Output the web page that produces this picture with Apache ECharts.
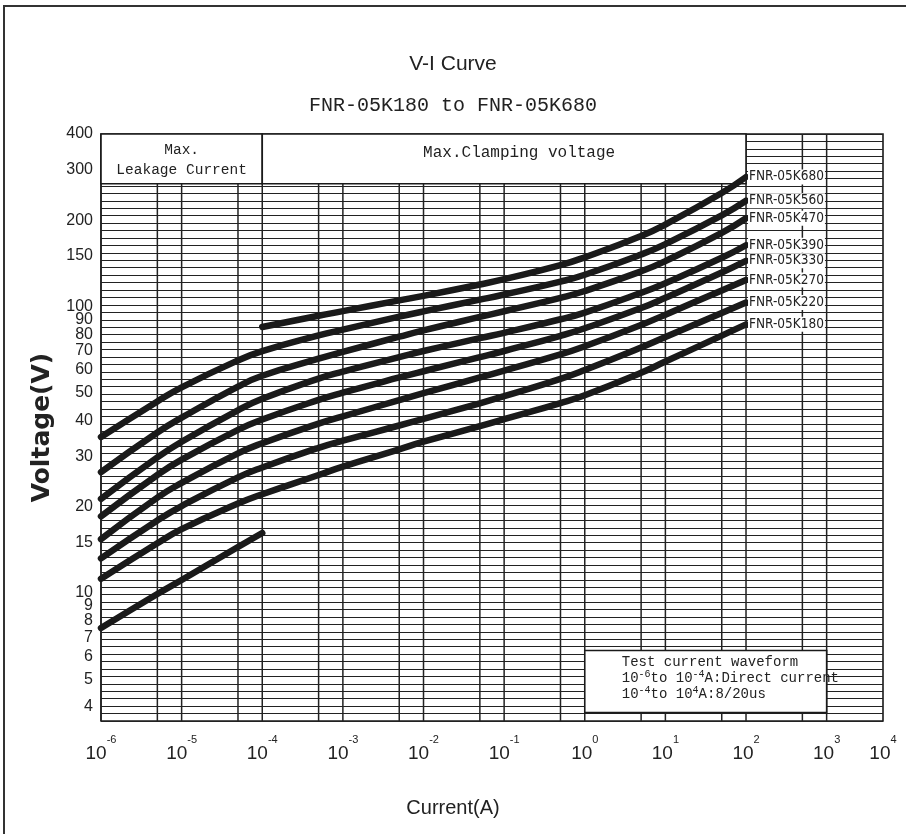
<!DOCTYPE html>
<html><head><meta charset="utf-8">
<script src="https://cdn.jsdelivr.net/npm/echarts@6.0.0/dist/echarts.min.js"></script>
<style>html,body{margin:0;padding:0;background:#fff}#c{width:906px;height:834px}</style>
</head><body><div id="c"></div>
<script>
// Current (A) sample points along every curve
const currentA = [1e-6, 5e-6, 1e-5, 5e-5, 1e-4, 5e-4, 1e-3, 5e-3, 1e-2, 5e-2, 1e-1, 5e-1, 1, 5, 10, 50, 100];
const seriesNames = ['FNR-05K680', 'FNR-05K560', 'FNR-05K470', 'FNR-05K390', 'FNR-05K330', 'FNR-05K270', 'FNR-05K220', 'FNR-05K180'];
// Voltage (V)
const k680 = [null, null, null, null, 84.8, 92.8, 96.3, 105.0, 108.9, 119.3, 124.5, 139.4, 148.4, 176.3, 193.2, 248.9, 283.1];
const k560 = [35.0, 46.6, 52.2, 64.8, 69.8, 79.2, 83.0, 92.1, 96.1, 105.6, 110.1, 122.1, 129.0, 151.8, 165.1, 207.9, 233.8];
const k470 = [26.4, 36.3, 40.9, 52.5, 57.3, 65.7, 69.4, 78.4, 82.5, 91.9, 96.2, 107.2, 113.2, 132.6, 144.0, 180.6, 203.1];
const k390 = [21.3, 29.7, 33.7, 43.4, 47.6, 56.0, 59.2, 66.5, 69.9, 77.5, 80.9, 90.2, 95.2, 111.6, 120.6, 147.9, 163.6];
const k330 = [18.5, 25.8, 29.2, 37.1, 40.3, 47.2, 50.0, 56.5, 59.4, 66.5, 69.9, 79.0, 83.9, 98.7, 107.2, 131.4, 144.3];
const k270 = [15.4, 21.5, 24.2, 30.7, 33.3, 39.0, 41.3, 47.1, 49.8, 56.5, 59.7, 68.0, 72.6, 86.2, 93.6, 113.7, 123.6];
const k220 = [13.2, 17.9, 20.1, 25.3, 27.4, 32.1, 34.0, 38.4, 40.5, 45.9, 48.6, 55.9, 60.0, 71.9, 78.2, 94.9, 103.2];
const k180 = [11.2, 14.9, 16.7, 20.5, 22.1, 25.8, 27.6, 31.7, 33.7, 38.2, 40.4, 46.0, 49.0, 58.7, 64.2, 79.1, 86.6];
const seriesValues = [k680, k560, k470, k390, k330, k270, k220, k180];
// extra leakage segment at the bottom left
const extraCurrent = [1e-6, 5e-6, 1e-5, 5e-5, 1e-4];
const extraVoltage = [7.54, 9.91, 11.09, 14.46, 16.18];

// tick labels
const yTickLabels = [4, 5, 6, 7, 8, 9, 10, 15, 20, 30, 40, 50, 60, 70, 80, 90, 100, 150, 200, 300, 400];
const xTickValues = [1e-6, 1e-5, 1e-4, 1e-3, 1e-2, 1e-1, 1, 10, 100, 1000, 5000];
const xGridLines = [1e-6, 5e-6, 1e-5, 5e-5, 1e-4, 5e-4, 1e-3, 5e-3, 1e-2, 5e-2, 1e-1, 5e-1, 1, 5, 10, 50, 100, 500, 1000];

// annotation regions (current range / voltage range)
const regionX0 = [1e-6, 1e-4, 1];
const regionX1 = [1e-4, 100, 1000];
const regionV0 = [268, 268, 3.82];
const regionV1 = [400, 400, 6.29];

const INK = '#1a1a1a';
const chart = echarts.init(document.getElementById('c'));

const curveSeries = seriesNames.map((name, i) => ({
  type: 'line', name, z: 3, silent: true, smooth: 0.5, symbol: 'none',
  data: currentA.map((x, j) => [x, seriesValues[i][j]]).filter(p => p[1] != null),
  lineStyle: { color: INK, width: 6.5, cap: 'round', join: 'round' },
  endLabel: {
    show: true, formatter: '{a}', fontFamily: 'DejaVu Sans Condensed', fontSize: 13.5,
    color: '#222', backgroundColor: '#fff', padding: [1, 1, 0, 1], distance: 2
  }
}));

const option = {
  backgroundColor: '#fff',
  animation: false,
  title: [
    { text: 'V-I Curve', left: 'center', top: 49, textStyle: { fontFamily: 'Liberation Sans', fontSize: 21, fontWeight: 'normal', color: '#222' } },
    { text: 'FNR-05K180 to FNR-05K680', left: 'center', top: 91, textStyle: { fontFamily: 'Liberation Mono', fontSize: 20, fontWeight: 'normal', color: '#222' } },
    { text: 'Current(A)', left: 'center', top: 793, textStyle: { fontFamily: 'Liberation Sans', fontSize: 20, fontWeight: 'normal', color: '#222' } }
  ],
  graphic: [{ type: 'rect', shape: { x: 4, y: 6, width: 1000, height: 1000 }, style: { fill: 'none', stroke: '#333', lineWidth: 2 }, silent: true }],
  grid: { left: 101, right: 23, top: 134, bottom: 113, show: true, borderColor: INK, borderWidth: 1.6, backgroundColor: 'transparent' },
  xAxis: {
    type: 'log', logBase: 10, min: 1e-6, max: 5000,
    axisLine: { show: false }, axisTick: { show: false }, splitLine: { show: false },
    axisLabel: {
      customValues: xTickValues, margin: 22,
      formatter: v => '{b|10}{e|' + Math.round(Math.log10(v)) + '}',
      rich: {
        b: { fontFamily: 'Liberation Sans', fontSize: 19, lineHeight: 20, color: '#222', verticalAlign: 'bottom' },
        e: { fontFamily: 'Liberation Sans', fontSize: 11, lineHeight: 12, color: '#222', verticalAlign: 'bottom', padding: [0, 0, 18, 0] }
      }
    }
  },
  yAxis: [
    {
      type: 'log', logBase: 10, min: 3.57, max: 400,
      name: 'Voltage(V)', nameLocation: 'middle', nameGap: 46,
      nameTextStyle: { fontFamily: 'DejaVu Sans', fontWeight: 'bold', fontSize: 25, color: '#222' },
      axisLine: { show: false }, axisTick: { show: false }, splitLine: { show: false },
      axisLabel: { customValues: yTickLabels, fontFamily: 'Liberation Sans', fontSize: 16, color: '#222', margin: 8 }
    },
    {
      type: 'value', min: 0, max: 79, interval: 1, position: 'right',
      axisLine: { show: false }, axisTick: { show: false }, axisLabel: { show: false },
      splitLine: { show: true, lineStyle: { color: '#222', width: 1.2 } }
    }
  ],
  series: [
    {
      type: 'custom', z: 1, silent: true,
      data: xGridLines.map(v => [v, 100]),
      encode: { x: 0, y: 1 },
      renderItem: (params, api) => {
        const cs = params.coordSys;
        const x = api.coord([api.value(0), 100])[0];
        return { type: 'line', shape: { x1: x, y1: cs.y, x2: x, y2: cs.y + cs.height }, style: { stroke: '#222', lineWidth: 1.5 } };
      }
    },
    {
      type: 'custom', z: 2, silent: true,
      data: regionX0.map((x, i) => [x, regionV0[i], regionX1[i], regionV1[i]]),
      encode: { x: [0, 2], y: [1, 3] },
      renderItem: (params, api) => {
        const i = params.dataIndex;
        const p0 = api.coord([api.value(0), api.value(3)]);
        const p1 = api.coord([api.value(2), api.value(1)]);
        const w = p1[0] - p0[0], h = p1[1] - p0[1];
        const children = [{ type: 'rect', shape: { x: p0[0], y: p0[1], width: w, height: h }, style: { fill: '#fff', stroke: INK, lineWidth: 1.6 } }];
        if (i === 0) {
          children.push({ type: 'text', style: { text: 'Max.\nLeakage Current', x: p0[0] + w / 2, y: p0[1] + h / 2 + 1, align: 'center', verticalAlign: 'middle', fontFamily: 'Liberation Mono', fontSize: 14.5, lineHeight: 20, fill: '#222' } });
        } else if (i === 1) {
          children.push({ type: 'text', style: { text: 'Max.Clamping voltage', x: p0[0] + w / 2 + 15, y: p0[1] + h / 2 - 6, align: 'center', verticalAlign: 'middle', fontFamily: 'Liberation Mono', fontSize: 16, fill: '#222' } });
        } else {
          children.push({ type: 'text', style: {
            text: '{t|Test current waveform}\n{t|10}{s|-6}{t|to 10}{s|-4}{t|A:Direct current}\n{t|10}{s|-4}{t|to 10}{s|4}{t|A:8/20us}',
            x: p0[0] + 37, y: p0[1] + 3, align: 'left', verticalAlign: 'top', fill: '#222',
            rich: {
              t: { fontFamily: 'Liberation Mono', fontSize: 14, lineHeight: 16, verticalAlign: 'bottom', fill: '#222' },
              s: { fontFamily: 'Liberation Mono', fontSize: 10, lineHeight: 10, verticalAlign: 'top', padding: [0, 0, 9, 0], fill: '#222' }
            }
          } });
        }
        return { type: 'group', children };
      }
    },
    ...curveSeries,
    {
      type: 'line', name: 'leakage', z: 3, silent: true, smooth: 0.5, symbol: 'none',
      data: extraCurrent.map((x, j) => [x, extraVoltage[j]]),
      lineStyle: { color: INK, width: 6.5, cap: 'round', join: 'round' }
    }
  ]
};
chart.setOption(option);
</script>
</body></html>
